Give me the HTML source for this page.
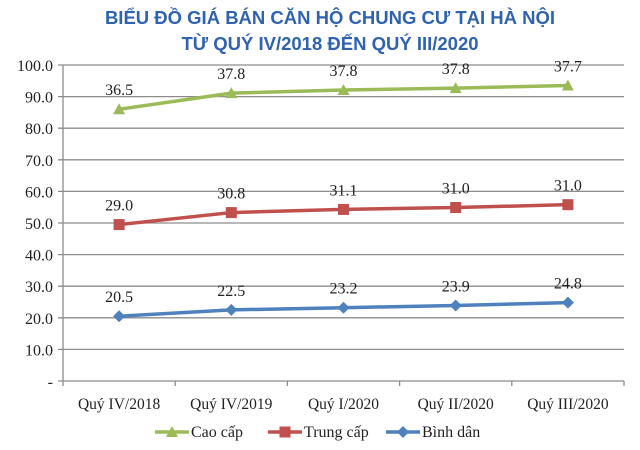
<!DOCTYPE html>
<html><head><meta charset="utf-8"><style>
body{margin:0;background:#fff;width:640px;height:445px;overflow:hidden}
svg text{font-family:"Liberation Serif",serif}
</style></head><body>
<svg id="c" width="640" height="445">
<text x="330" y="24" text-anchor="middle" font-size="18.5" font-weight="bold" fill="#2f63b0" style="font-family:'Liberation Sans',sans-serif">BIỂU ĐỒ GIÁ BÁN CĂN HỘ CHUNG CƯ TẠI HÀ NỘI</text>
<text x="330" y="50" text-anchor="middle" font-size="18.5" font-weight="bold" fill="#2f63b0" style="font-family:'Liberation Sans',sans-serif">TỪ QUÝ IV/2018 ĐẾN QUÝ III/2020</text>
</svg>
<script>
const categories=["Quý IV/2018","Quý IV/2019","Quý I/2020","Quý II/2020","Quý III/2020"];
const binhDan=[20.5,22.5,23.2,23.9,24.8];
const trungCap=[29.0,30.8,31.1,31.0,31.0];
const caoCap=[36.5,37.8,37.8,37.8,37.7];
const yTicks=[0,10,20,30,40,50,60,70,80,90,100];
const seriesNames=["Cao cấp","Trung cấp","Bình dân"];

const svg=document.getElementById('c');const NS='http://www.w3.org/2000/svg';
const L=63,R=624,T=65,B=381;
const x=i=>L+(R-L)/categories.length*(i+0.5);
const y=v=>B-(v/100)*(B-T);
function el(t,a,p){const e=document.createElementNS(NS,t);for(const k in a)e.setAttribute(k,a[k]);(p||svg).appendChild(e);return e;}
yTicks.forEach(v=>{
  const g=el('line',{x1:L-5,x2:R,y1:y(v),y2:y(v),stroke:'#8c8c8c','stroke-width':1.3});
  
  
  const t=el('text',{x:L-10,y:y(v)+6,'text-anchor':'end','font-size':16,fill:'#222'});
  t.textContent=v===0?'-':v.toFixed(1);
  
  
});
const ax=el('line',{x1:L,x2:L,y1:T,y2:B,stroke:'#8c8c8c','stroke-width':1.3});


for(let i=0;i<=categories.length;i++){
  const xx=L+(R-L)/categories.length*i;
  const tk=el('line',{x1:xx,x2:xx,y1:B,y2:B+5,stroke:'#8c8c8c','stroke-width':1.3});
  
  
}
categories.forEach((c,i)=>{
  const t=el('text',{x:x(i),y:B+28,'text-anchor':'middle','font-size':15.5,fill:'#222'});
  t.textContent=c;
  
  
});
const s1=binhDan, s2=binhDan.map((v,i)=>v+trungCap[i]), s3=s2.map((v,i)=>v+caoCap[i]);
const series=[
  {vals:s3,lab:caoCap,col:'#9bbb59',m:'tri',name:'cao-cap'},
  {vals:s2,lab:trungCap,col:'#c0504d',m:'sq',name:'trung-cap'},
  {vals:s1,lab:binhDan,col:'#4f81bd',m:'dia',name:'binh-dan'}];
function marker(m,cx,cy,col,name){
  let e;
  if(m==='tri')e=el('polygon',{points:`${cx},${cy-6} ${cx+6},${cy+5} ${cx-6},${cy+5}`,fill:col});
  else if(m==='sq')e=el('rect',{x:cx-5.5,y:cy-5.5,width:11,height:11,fill:col});
  else e=el('polygon',{points:`${cx},${cy-6} ${cx+6},${cy} ${cx},${cy+6} ${cx-6},${cy}`,fill:col});
  
  
}
series.forEach(s=>{
  const p=el('polyline',{points:s.vals.map((v,i)=>x(i)+','+y(v)).join(' '),fill:'none',stroke:s.col,'stroke-width':3.5});
  
  
  s.vals.forEach((v,i)=>{
    marker(s.m,x(i),y(v),s.col,'point-'+s.name);
    const t=el('text',{x:x(i),y:y(v)-14,'text-anchor':'middle','font-size':16,fill:'#222'});
    t.textContent=s.lab[i].toFixed(1);
    
    
  });
});
const lx=[155,268,386];
series.forEach((s,k)=>{
  const g=el('g',{});
  
  
  el('line',{x1:lx[k],x2:lx[k]+34,y1:432,y2:432,stroke:s.col,'stroke-width':3.5},g);
  const mk=s.m==='tri'?el('polygon',{points:`${lx[k]+17},${426} ${lx[k]+23},${437} ${lx[k]+11},${437}`,fill:s.col},g)
    :s.m==='sq'?el('rect',{x:lx[k]+11.5,y:426.5,width:11,height:11,fill:s.col},g)
    :el('polygon',{points:`${lx[k]+17},426 ${lx[k]+23},432 ${lx[k]+17},438 ${lx[k]+11},432`,fill:s.col},g);
  const t=el('text',{x:lx[k]+36,y:437,'font-size':16,fill:'#222'},g);
  t.textContent=seriesNames[k];
});
</script>
</body></html>
